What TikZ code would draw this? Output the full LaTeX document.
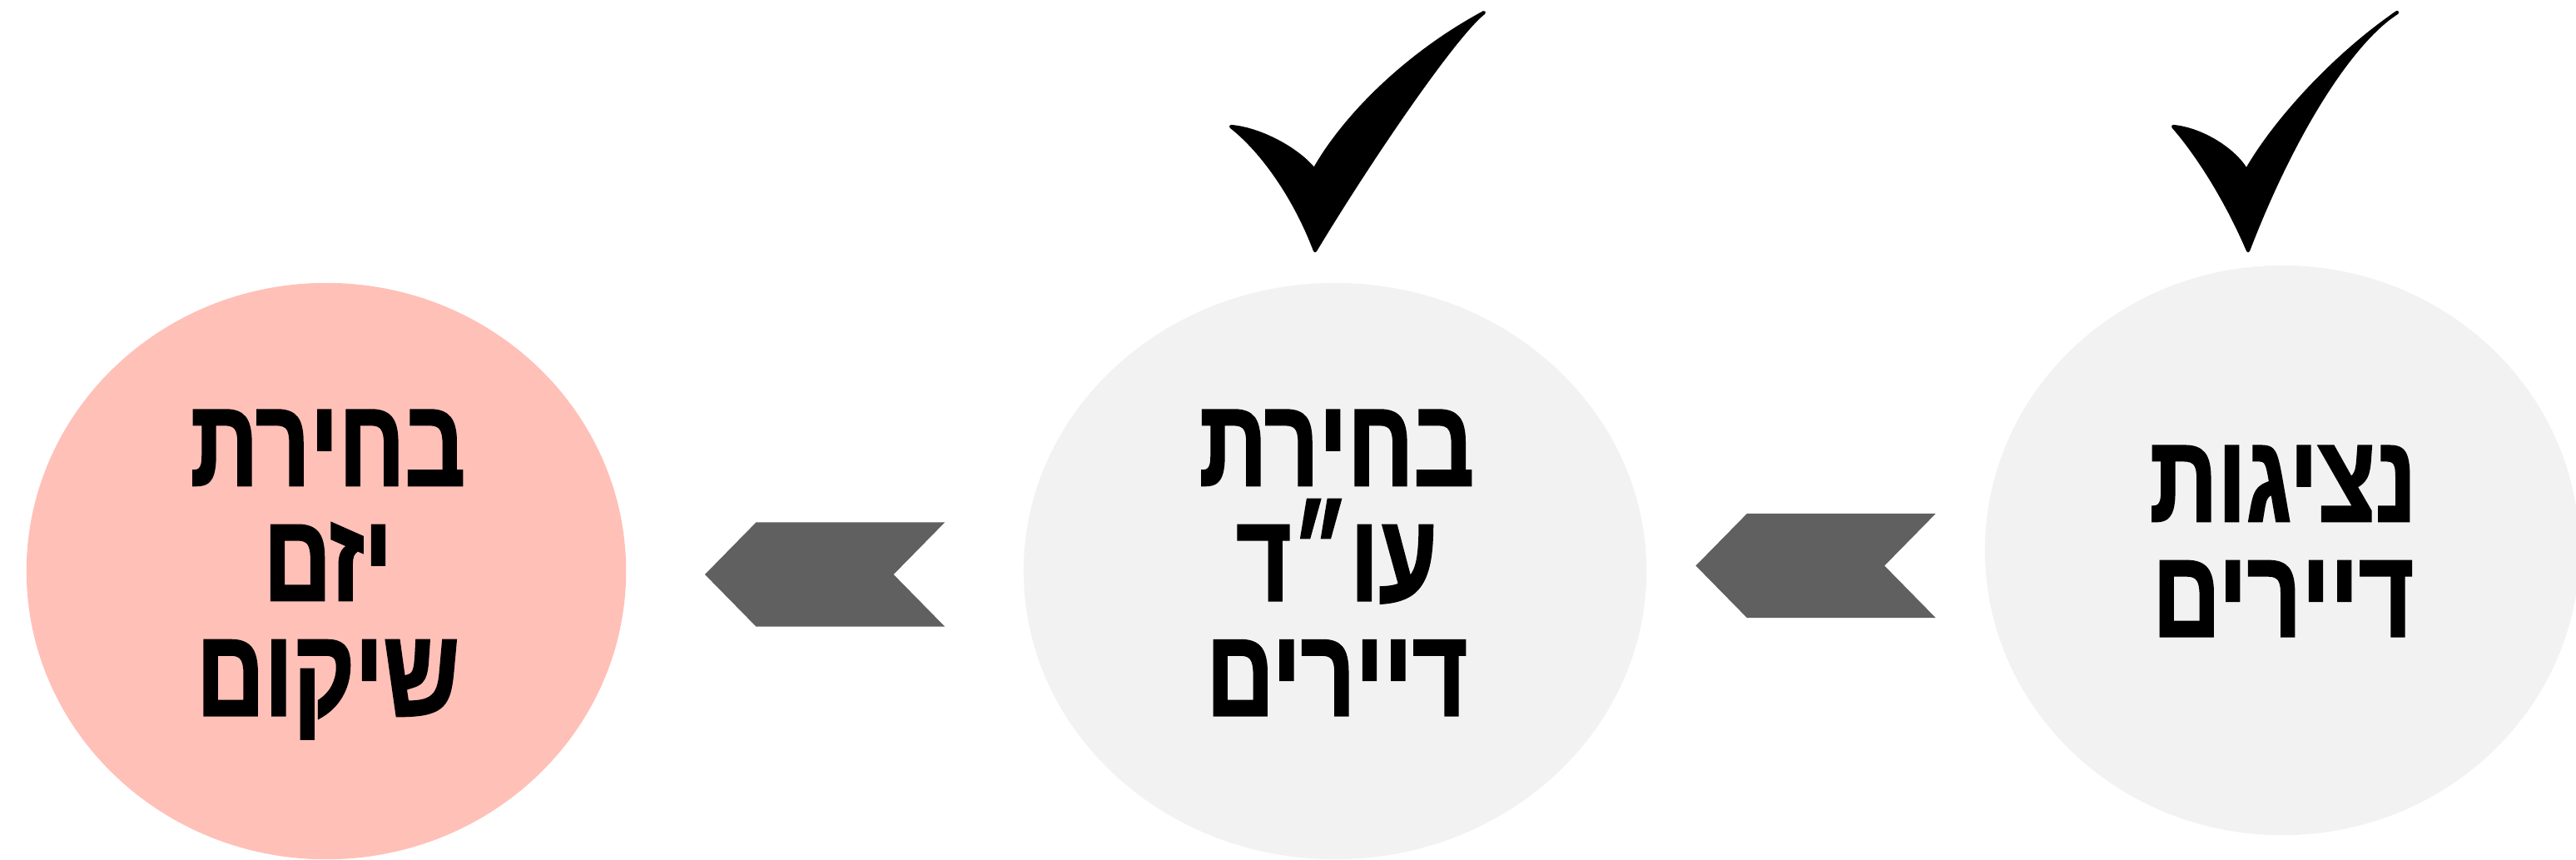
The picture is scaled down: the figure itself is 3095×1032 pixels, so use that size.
\documentclass[tikz,border=0pt]{standalone}
\usepackage{fontspec}
\usetikzlibrary{shapes.geometric,shapes.symbols,calc}
\TeXXeTstate=1
\newfontfamily\hebfont[Script=Hebrew,FakeStretch=0.76,FakeBold=1.6]{Liberation Sans}
\definecolor{stagegray}{HTML}{F2F2F2}
\definecolor{stagepink}{HTML}{FFC0B8}
\definecolor{chevgray}{HTML}{606060}
\tikzset{
  stage/.style={ellipse, fill=stagegray, inner sep=0pt},
  stagetext/.style={align=center, inner sep=0pt,
    font=\hebfont\bfseries\fontsize{42.5}{39.3}\selectfont},
  chevron/.style={signal, signal to=west, signal from=east,
    signal pointer angle=91, fill=chevgray, inner sep=0pt,
    minimum width=2.88cm, minimum height=1.25cm},
  tick/.style={fill=black, draw=black, line width=1.2pt, line join=round}
}
\begin{document}
\begin{tikzpicture}[x=0.01cm,y=-0.01cm]
  \useasboundingbox (0,0) rectangle (3095,1032);
  \clip (0,0) rectangle (3095,1032);
  % the three stages, right to left
  \node[stage, minimum width=7.14cm, minimum height=6.84cm] (netzigut) at (2742,661) {};
  \node[stage, minimum width=7.48cm, minimum height=6.92cm] (orekhdin) at (1604,686) {};
  \node[stage, fill=stagepink, minimum width=7.2cm, minimum height=6.92cm] (yazam) at (392,686) {};
  \node[stagetext] (netzigut text) at (2743,650)
    {\beginR נציגות\endR\\ \beginR דיירים\endR};
  \node[stagetext] (orekhdin text) at (1606,676)
    {\beginR בחירת\endR\\ \beginR עו״ד\endR\\ \beginR דיירים\endR};
  \node[stagetext] (yazam text) at (394,690)
    {\beginR בחירת\endR\\ \beginR יזם\endR\\ \beginR שיקום\endR};
  % chevrons between the stages
  \node[chevron] (chev right) at ($(orekhdin.east)!0.5!(netzigut.west)+(0,6)$) {};
  \node[chevron] (chev left) at ($(yazam.east)!0.5!(orekhdin.west)+(0,4)$) {};
  % ticks over the finished stages
  \filldraw[tick] (1479,152) .. controls (1515,155) and (1560,180) .. (1579,204)
    .. controls (1615,140) and (1690,65) .. (1783,15)
    .. controls (1750,40) and (1650,185) .. (1580,301)
    .. controls (1555,235) and (1515,180) .. cycle;
  \filldraw[tick] (2611,152) .. controls (2645,155) and (2685,180) .. (2699,205)
    .. controls (2730,150) and (2800,70) .. (2880,15)
    .. controls (2825,50) and (2755,160) .. (2701,301)
    .. controls (2675,240) and (2640,185) .. cycle;
\end{tikzpicture}
\end{document}
